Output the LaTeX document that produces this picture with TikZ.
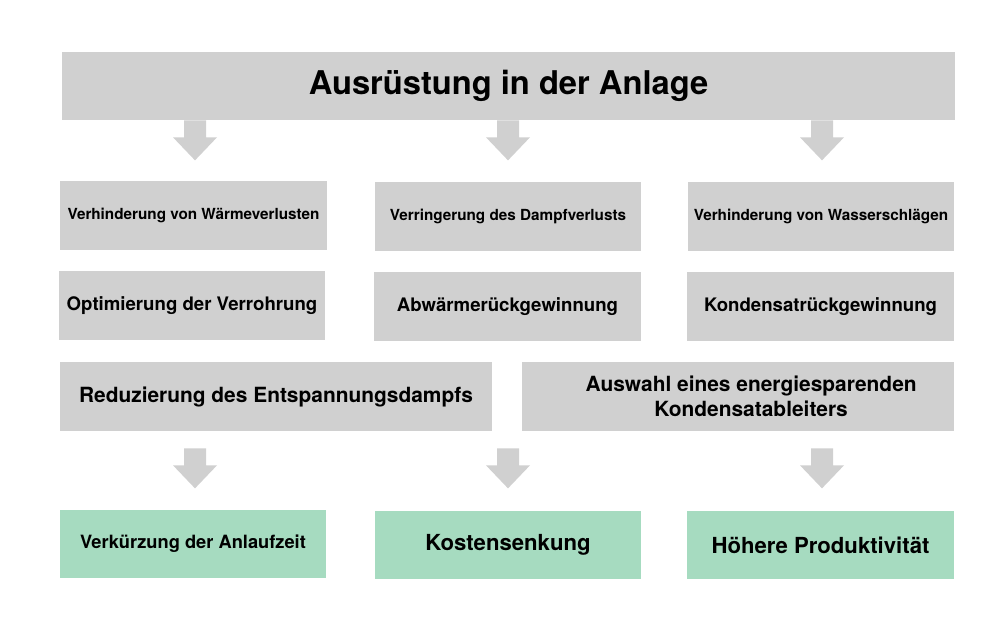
\documentclass[tikz,border=0pt]{standalone}
\usepackage{fontspec}
\setmainfont{TeX Gyre Heros}
\usetikzlibrary{positioning,calc}
\definecolor{boxgray}{HTML}{D0D0D0}
\definecolor{boxgreen}{HTML}{A6DBC0}
\tikzset{
  box/.style={fill=boxgray, minimum width=5.33cm, minimum height=1.38cm, inner sep=0pt, align=center, font=\bfseries},
  widebox/.style={box, minimum width=8.64cm},
  resultbox/.style={box, fill=boxgreen},
  pics/downarrow/.style={code={
    \fill[boxgray] (-11,0) -- (11,0) -- (11,17) -- (22,17) -- (0,40) -- (-22,17) -- (-11,17) -- cycle;}}
}
\newcommand{\fs}[1]{\fontsize{#1}{1.2\dimexpr#1\relax}\selectfont}
\begin{document}
\begin{tikzpicture}[x=0.02cm,y=-0.02cm]
\useasboundingbox[fill=white] (0,0) rectangle (1000,621);
% Kopf
\node[box, minimum width=17.86cm, minimum height=1.36cm, font=\bfseries\fs{18.6pt}] (title) at (508.5,86) {Ausrüstung in der Anlage};
% erste Reihe
\node[box, font=\bfseries\fs{8.7pt}] (r1a) at (193.5,215.5) {Verhinderung von Wärmeverlusten};
\node[box, font=\bfseries\fs{8.7pt}] (r1b) at (508,216.5) {Verringerung des Dampfverlusts};
\node[box, font=\bfseries\fs{8.7pt}] (r1c) at (821,216.5) {Verhinderung von Wasserschlägen};
% zweite Reihe
\node[box, font=\bfseries\fs{10.6pt}] (r2a) at (192,305.5) {Optimierung der Verrohrung};
\node[box, font=\bfseries\fs{10.6pt}] (r2b) at (507.5,306.5) {Abwärmerückgewinnung};
\node[box, font=\bfseries\fs{10.6pt}] (r2c) at (820.5,306.5) {Kondensatrückgewinnung};
% dritte Reihe
\node[widebox, font=\bfseries\fs{11.9pt}] (r3a) at (276,396.5) {Reduzierung des Entspannungsdampfs};
\node[widebox, font=\bfseries\fs{11.9pt}] (r3b) at (738,396.5) {\hspace*{15pt}Auswahl eines energiesparenden\\\hspace*{15pt}Kondensatableiters};
% Ergebnisse
\node[resultbox, font=\bfseries\fs{10.4pt}] (g1) at (193,544) {Verkürzung der Anlaufzeit};
\node[resultbox, font=\bfseries\fs{12.6pt}] (g2) at (508,545) {Kostensenkung};
\node[resultbox, font=\bfseries\fs{12.6pt}] (g3) at (820.5,545) {Höhere Produktivität};
% Pfeile
\pic at ($(title.south -| r1a.center)+(1.5,0)$) {downarrow};
\pic at (title.south -| r1b.center) {downarrow};
\pic at ($(title.south -| r1c.center)+(1,0)$) {downarrow};
\pic at ($(r3a.south -| g1.north)+(2,17)$) {downarrow};
\pic at ($(r3a.south -| g2.north)+(0,17)$) {downarrow};
\pic at ($(r3b.south -| g3.north)+(1.5,17)$) {downarrow};
\end{tikzpicture}
\end{document}
